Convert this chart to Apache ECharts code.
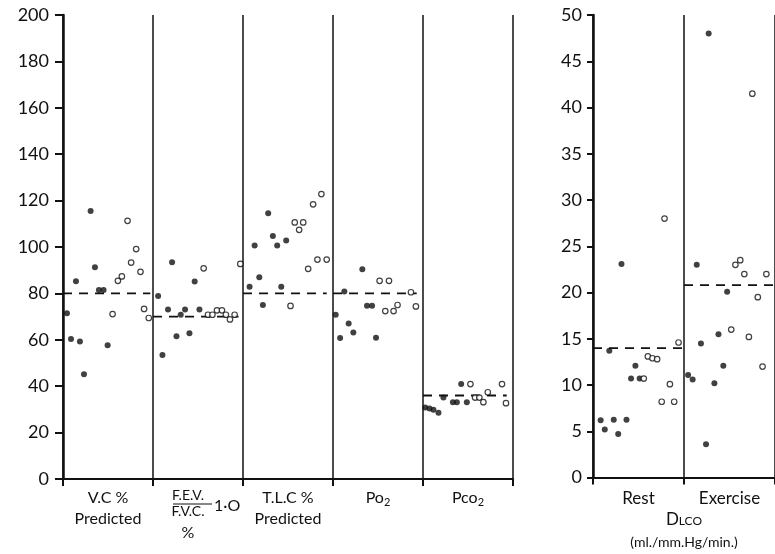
<!DOCTYPE html>
<html><head><meta charset="utf-8">
<script src="https://cdn.jsdelivr.net/npm/echarts@6/dist/echarts.min.js"></script>
<style>html,body{margin:0;padding:0;background:#fff}#c{width:775px;height:554px}</style>
</head><body><div id="c"></div>
<script>
// ---- Left panel (percent / mm Hg) ----
const leftCategories = ['VC', 'FEV', 'TLC', 'PO2', 'PCO2'];
const leftYTicks = [0, 20, 40, 60, 80, 100, 120, 140, 160, 180, 200];
const leftMeans = [80, 70, 80, 80, 36];
// [position within chart (column index + offset), value]
const vcFilled = [[0.044,71.4],[0.089,60.3],[0.144,85.2],[0.188,59.3],[0.233,45.2],[0.307,115.5],[0.355,91.3],[0.399,81.5],[0.451,81.5],[0.496,57.6]];
const vcOpen = [[0.551,71.1],[0.610,85.4],[0.654,87.3],[0.717,111.3],[0.757,93.3],[0.813,99.1],[0.861,89.3],[0.901,73.3],[0.953,69.4]];
const fevFilled = [[1.057,78.9],[1.105,53.4],[1.167,73.1],[1.212,93.4],[1.261,61.5],[1.308,70.8],[1.356,73.1],[1.405,62.8],[1.463,85.1],[1.516,73.1]];
const fevOpen = [[1.563,90.8],[1.611,70.8],[1.660,70.8],[1.711,72.7],[1.766,72.7],[1.810,70.8],[1.855,68.8],[1.907,70.8],[1.970,92.7]];
const tlcFilled = [[2.073,82.9],[2.129,100.6],[2.181,87.0],[2.221,75.0],[2.280,114.6],[2.332,104.7],[2.380,100.6],[2.425,82.9],[2.480,102.8]];
const tlcOpen = [[2.528,74.6],[2.575,110.6],[2.624,107.4],[2.669,110.6],[2.724,90.6],[2.779,118.4],[2.827,94.6],[2.871,122.8],[2.930,94.6]];
const po2Filled = [[3.030,70.8],[3.079,60.8],[3.126,80.8],[3.174,67.0],[3.226,63.1],[3.326,90.4],[3.378,74.7],[3.434,74.7],[3.478,60.9]];
const po2Open = [[3.518,85.4],[3.581,72.4],[3.622,85.4],[3.673,72.4],[3.717,75.0],[3.866,80.5],[3.921,74.4]];
const pco2Filled = [[4.024,30.8],[4.072,30.4],[4.116,29.8],[4.172,28.6],[4.227,35.1],[4.332,33.1],[4.376,33.1],[4.424,40.9],[4.487,33.1]];
const pco2Open = [[4.527,40.9],[4.579,35.1],[4.626,35.1],[4.671,33.1],[4.720,37.4],[4.878,40.9],[4.922,32.7]];

// ---- Right panel (DLCO ml/mm Hg/min) ----
const rightCategories = ['Rest', 'Exercise'];
const rightYTicks = [0, 5, 10, 15, 20, 25, 30, 35, 40, 45, 50];
const rightMeans = [14, 20.8];
const restFilled = [[0.084,6.2],[0.129,5.2],[0.179,13.7],[0.228,6.25],[0.277,4.7],[0.313,23.1],[0.368,6.25],[0.418,10.7],[0.466,12.1],[0.513,10.7]];
const restOpen = [[0.558,10.7],[0.603,13.1],[0.653,12.9],[0.705,12.8],[0.755,8.2],[0.786,28.0],[0.845,10.1],[0.892,8.2],[0.940,14.6]];
const exFilled = [[1.045,11.1],[1.095,10.6],[1.140,23.0],[1.186,14.5],[1.242,3.6],[1.271,48.0],[1.334,10.2],[1.379,15.5],[1.432,12.1],[1.474,20.1]];
const exOpen = [[1.519,16.0],[1.565,23.0],[1.618,23.5],[1.663,22.0],[1.713,15.2],[1.751,41.5],[1.811,19.5],[1.863,12.0],[1.905,22.0]];

const INK = '#111';
const FONT = 'Lato';
const leftMeanSpan = [0.97, 0.95, 0.93, 0.93, 0.93];

const chart = echarts.init(document.getElementById('c'), null, {renderer: 'canvas'});

function filledSeries(data, xi, yi) {
  return {type: 'scatter', xAxisIndex: xi, yAxisIndex: yi, data: data, symbol: 'circle', symbolSize: 6,
    itemStyle: {color: INK}, silent: true, z: 5};
}
function openSeries(data, xi, yi) {
  return {type: 'scatter', xAxisIndex: xi, yAxisIndex: yi, data: data, symbol: 'circle', symbolSize: 5.5,
    itemStyle: {color: '#fff', borderColor: INK, borderWidth: 1.2}, silent: true, z: 5};
}
function meanSeries(x0, x1, v, xi, yi) {
  return {type: 'line', xAxisIndex: xi, yAxisIndex: yi, data: [[x0, v], [x1, v]], symbol: 'none',
    lineStyle: {color: INK, width: 1.8, type: [9, 7]}, silent: true, z: 3};
}

const series = [
  filledSeries([].concat(vcFilled, fevFilled, tlcFilled, po2Filled, pco2Filled), 0, 0),
  openSeries([].concat(vcOpen, fevOpen, tlcOpen, po2Open, pco2Open), 0, 0),
  filledSeries([].concat(restFilled, exFilled), 2, 1),
  openSeries([].concat(restOpen, exOpen), 2, 1)
];
leftMeans.forEach((m, i) => series.push(meanSeries(i, i + leftMeanSpan[i], m, 0, 0)));
rightMeans.forEach((m, i) => series.push(meanSeries(i, i + 1, m, 2, 1)));

const labelRich = {
  n: {fontFamily: FONT, fontSize: 16, color: INK, lineHeight: 21},
  s: {fontFamily: FONT, fontSize: 11, color: INK, lineHeight: 21, padding: [10, 0, 0, 0]},
  f: {fontFamily: FONT, fontSize: 14, color: INK, lineHeight: 16, padding: [0, 20, 0, 0]},
  p: {fontFamily: FONT, fontSize: 16, color: INK, lineHeight: 28, padding: [0, 20, 0, 0]}
};
const leftLabelText = {
  VC: '{n|V.C %}\n{n|Predicted}',
  FEV: '{f|F.E.V.}\n{f|F.V.C.}\n{p|%}',
  TLC: '{n|T.L.C %}\n{n|Predicted}',
  PO2: '{n|Po}{s|2}',
  PCO2: '{n|Pco}{s|2}'
};

const option = {
  backgroundColor: '#fff',
  animation: false,
  grid: [
    {left: 63, top: 15, width: 450, height: 464},
    {left: 593, top: 15, width: 190, height: 464}
  ],
  xAxis: [
    {type: 'value', gridIndex: 0, position: 'bottom', min: 0, max: leftCategories.length, interval: 1,
      axisLine: {show: true, lineStyle: {color: INK, width: 2}},
      axisTick: {show: true, length: 7, lineStyle: {color: INK, width: 2}},
      axisLabel: {show: false},
      splitLine: {show: true, lineStyle: {color: INK, width: 1.5}}},
    {type: 'category', gridIndex: 0, position: 'bottom', data: leftCategories,
      axisLine: {show: false}, axisTick: {show: false}, splitLine: {show: false},
      axisLabel: {margin: 8, interval: 0, formatter: v => leftLabelText[v], rich: labelRich}},
    {type: 'value', gridIndex: 1, position: 'bottom', min: 0, max: rightCategories.length, interval: 1,
      axisLine: {show: true, lineStyle: {color: INK, width: 2}},
      axisTick: {show: true, length: 7, lineStyle: {color: INK, width: 2}},
      axisLabel: {show: false},
      splitLine: {show: true, lineStyle: {color: INK, width: 1.5}}},
    {type: 'category', gridIndex: 1, position: 'bottom', data: rightCategories,
      axisLine: {show: false}, axisTick: {show: false}, splitLine: {show: false},
      axisLabel: {margin: 12, interval: 0, fontFamily: FONT, fontSize: 17, color: INK},
      name: '{d|D}{c|LCO}\n{u|(ml./mm.Hg/min.)}', nameLocation: 'middle', nameGap: 31,
      nameTextStyle: {rich: {
        d: {fontFamily: FONT, fontSize: 17, color: INK, lineHeight: 22},
        c: {fontFamily: FONT, fontSize: 12, color: INK, lineHeight: 22, padding: [3, 0, 0, 0]},
        u: {fontFamily: FONT, fontSize: 14, color: INK, lineHeight: 22}
      }}}
  ],
  yAxis: [
    {type: 'value', gridIndex: 0, min: leftYTicks[0], max: leftYTicks[leftYTicks.length - 1], interval: leftYTicks[1] - leftYTicks[0],
      axisLine: {show: true, lineStyle: {color: INK, width: 2.5}},
      axisTick: {show: true, length: 8, lineStyle: {color: INK, width: 2}},
      axisLabel: {margin: 14, fontFamily: FONT, fontSize: 18, color: INK},
      splitLine: {show: false}},
    {type: 'value', gridIndex: 1, min: rightYTicks[0], max: rightYTicks[rightYTicks.length - 1], interval: rightYTicks[1] - rightYTicks[0],
      axisLine: {show: true, lineStyle: {color: INK, width: 2.5}},
      axisTick: {show: true, length: 6, lineStyle: {color: INK, width: 2}},
      axisLabel: {margin: 11, fontFamily: FONT, fontSize: 18, color: INK},
      splitLine: {show: false}}
  ],
  graphic: [
    {type: 'line', shape: {x1: 173, y1: 504, x2: 212, y2: 504}, style: {stroke: INK, lineWidth: 1.2}},
    {type: 'text', x: 214, y: 506, style: {text: '1·O', fontFamily: FONT, fontSize: 16, fill: INK, verticalAlign: 'middle'}}
  ],
  series: series
};
chart.setOption(option);
</script></body></html>
